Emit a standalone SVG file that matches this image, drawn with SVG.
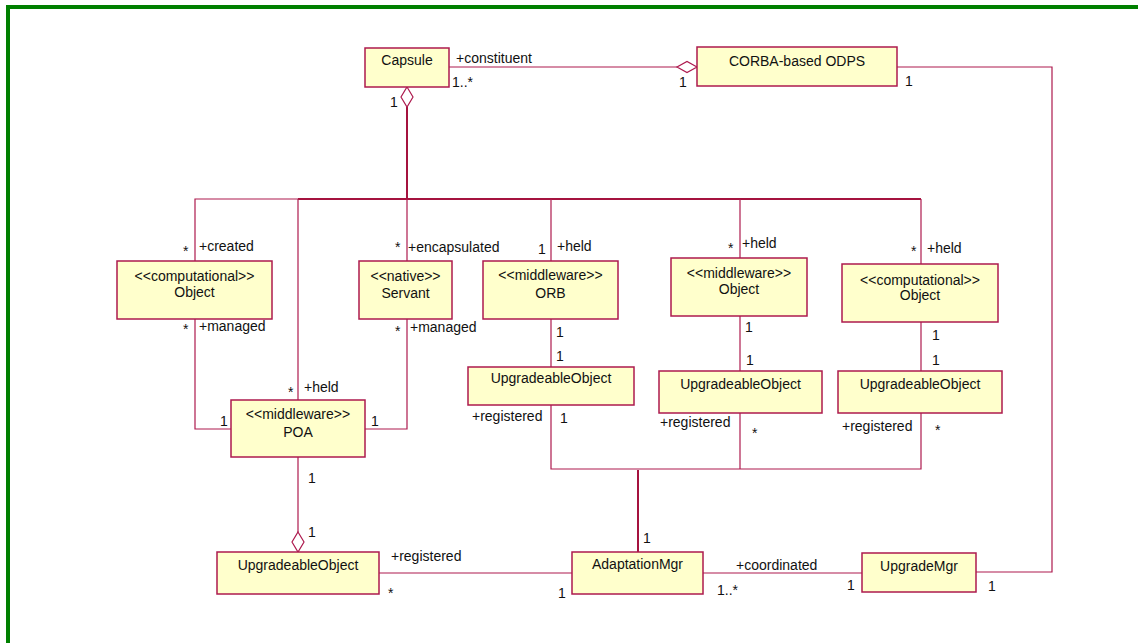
<svg xmlns="http://www.w3.org/2000/svg" width="1138" height="643" viewBox="0 0 1138 643">
<style>
.box{fill:#ffffcc;stroke:#ad1a4e;stroke-width:1.5}
.ln{fill:none;stroke:#ad1a4e;stroke-width:1.2}
.thk{fill:none;stroke:#a5133f;stroke-width:2}
.dia{fill:#ffffff;stroke:#ad1a4e;stroke-width:1.2}
text{font-family:"Liberation Sans",Arial,sans-serif;font-size:14px;fill:#111}
.c{text-anchor:middle}
</style>
<rect x="0" y="0" width="1138" height="643" fill="#ffffff"/>
<path d="M8,643 V7 H1138" fill="none" stroke="#008000" stroke-width="4"/>

<g id="connectors">
  <path class="ln" d="M449,67 H677"/>
  <polygon class="dia" points="697,67 687,61.5 677,67 687,72.5"/>
  <path class="thk" d="M407,107 V199"/>
  <polygon class="dia" points="407,87 413,97 407,107 401,97"/>
  <path class="thk" d="M298,199 H921" stroke-width="1.6"/>
  <path class="ln" d="M195,261 V199 H298"/>
  <path class="ln" d="M298,199 V400"/>
  <path class="ln" d="M407,199 V261"/>
  <path class="ln" d="M551,199 V261"/>
  <path class="ln" d="M740,199 V258"/>
  <path class="ln" d="M921,199 V264"/>
  <path class="ln" d="M195,319 V429 H231"/>
  <path class="ln" d="M407,319 V429 H365"/>
  <path class="ln" d="M298,457 V532"/>
  <polygon class="dia" points="298,532 304,542 298,552 292,542"/>
  <path class="ln" d="M551,319 V367"/>
  <path class="ln" d="M740,316 V371"/>
  <path class="ln" d="M921,322 V371"/>
  <path class="ln" d="M551,405 V469 H921 V413"/>
  <path class="ln" d="M740,413 V469"/>
  <path class="thk" d="M638,470 V552"/>
  <path class="ln" d="M379,573 H572"/>
  <path class="ln" d="M703,573 H862"/>
  <path class="ln" d="M976,572 H1052 V67 H897"/>

  <text x="456" y="63">+constituent</text>
  <text x="452" y="87">1..*</text>
  <text x="679" y="87">1</text>
  <text x="905" y="86">1</text>
  <text x="390" y="107">1</text>

  <text x="183" y="256">*</text>
  <text x="199" y="251">+created</text>
  <text x="183" y="334">*</text>
  <text x="199" y="331">+managed</text>
  <text x="395" y="252">*</text>
  <text x="408" y="252">+encapsulated</text>
  <text x="395" y="336">*</text>
  <text x="410" y="332">+managed</text>
  <text x="288" y="397">*</text>
  <text x="304" y="392">+held</text>
  <text x="220" y="426">1</text>
  <text x="371" y="426">1</text>
  <text x="308" y="483">1</text>
  <text x="308" y="537">1</text>

  <text x="538" y="254">1</text>
  <text x="557" y="251">+held</text>
  <text x="728" y="253">*</text>
  <text x="742" y="248">+held</text>
  <text x="911" y="256">*</text>
  <text x="927" y="253">+held</text>

  <text x="556" y="337">1</text>
  <text x="556" y="361">1</text>
  <text x="745" y="332">1</text>
  <text x="746" y="365">1</text>
  <text x="932" y="340">1</text>
  <text x="932" y="365">1</text>

  <text x="472" y="421">+registered</text>
  <text x="560" y="423">1</text>
  <text x="660" y="427">+registered</text>
  <text x="752" y="438">*</text>
  <text x="842" y="431">+registered</text>
  <text x="935" y="435">*</text>

  <text x="643" y="543">1</text>
  <text x="391" y="561">+registered</text>
  <text x="388" y="598">*</text>
  <text x="558" y="598">1</text>
  <text x="736" y="570">+coordinated</text>
  <text x="717" y="595">1..*</text>
  <text x="847" y="590">1</text>
  <text x="988" y="591">1</text>
</g>

<g id="capsule"><rect class="box" x="365" y="48" width="84" height="39"/><text class="c" x="407" y="65">Capsule</text></g>
<g id="odps"><rect class="box" x="697" y="47" width="200" height="39"/><text class="c" x="797" y="66">CORBA-based ODPS</text></g>
<g id="compObject1"><rect class="box" x="117" y="261" width="155" height="58"/><text class="c" x="194.5" y="281">&lt;&lt;computational&gt;&gt;</text><text class="c" x="194.5" y="297">Object</text></g>
<g id="servant"><rect class="box" x="359" y="261" width="93" height="58"/><text class="c" x="405.5" y="281">&lt;&lt;native&gt;&gt;</text><text class="c" x="405.5" y="298">Servant</text></g>
<g id="orb"><rect class="box" x="483" y="261" width="135" height="58"/><text class="c" x="550.5" y="280">&lt;&lt;middleware&gt;&gt;</text><text class="c" x="550.5" y="298">ORB</text></g>
<g id="mwObject"><rect class="box" x="671" y="258" width="136" height="58"/><text class="c" x="739" y="278">&lt;&lt;middleware&gt;&gt;</text><text class="c" x="739" y="294">Object</text></g>
<g id="compObject2"><rect class="box" x="842" y="264" width="156" height="58"/><text class="c" x="920" y="285">&lt;&lt;computational&gt;&gt;</text><text class="c" x="920" y="300">Object</text></g>
<g id="poa"><rect class="box" x="231" y="400" width="134" height="57"/><text class="c" x="298" y="419">&lt;&lt;middleware&gt;&gt;</text><text class="c" x="298" y="437">POA</text></g>
<g id="uo1"><rect class="box" x="468" y="367" width="166" height="38"/><text class="c" x="551" y="383">UpgradeableObject</text></g>
<g id="uo2"><rect class="box" x="659" y="371" width="163" height="42"/><text class="c" x="740.5" y="389">UpgradeableObject</text></g>
<g id="uo3"><rect class="box" x="838" y="371" width="164" height="42"/><text class="c" x="920" y="389">UpgradeableObject</text></g>
<g id="uo4"><rect class="box" x="217" y="552" width="162" height="42"/><text class="c" x="298" y="570">UpgradeableObject</text></g>
<g id="adaptationMgr"><rect class="box" x="572" y="552" width="131" height="42"/><text class="c" x="637.5" y="569">AdaptationMgr</text></g>
<g id="upgradeMgr"><rect class="box" x="862" y="553" width="114" height="39"/><text class="c" x="919" y="571">UpgradeMgr</text></g>
</svg>
